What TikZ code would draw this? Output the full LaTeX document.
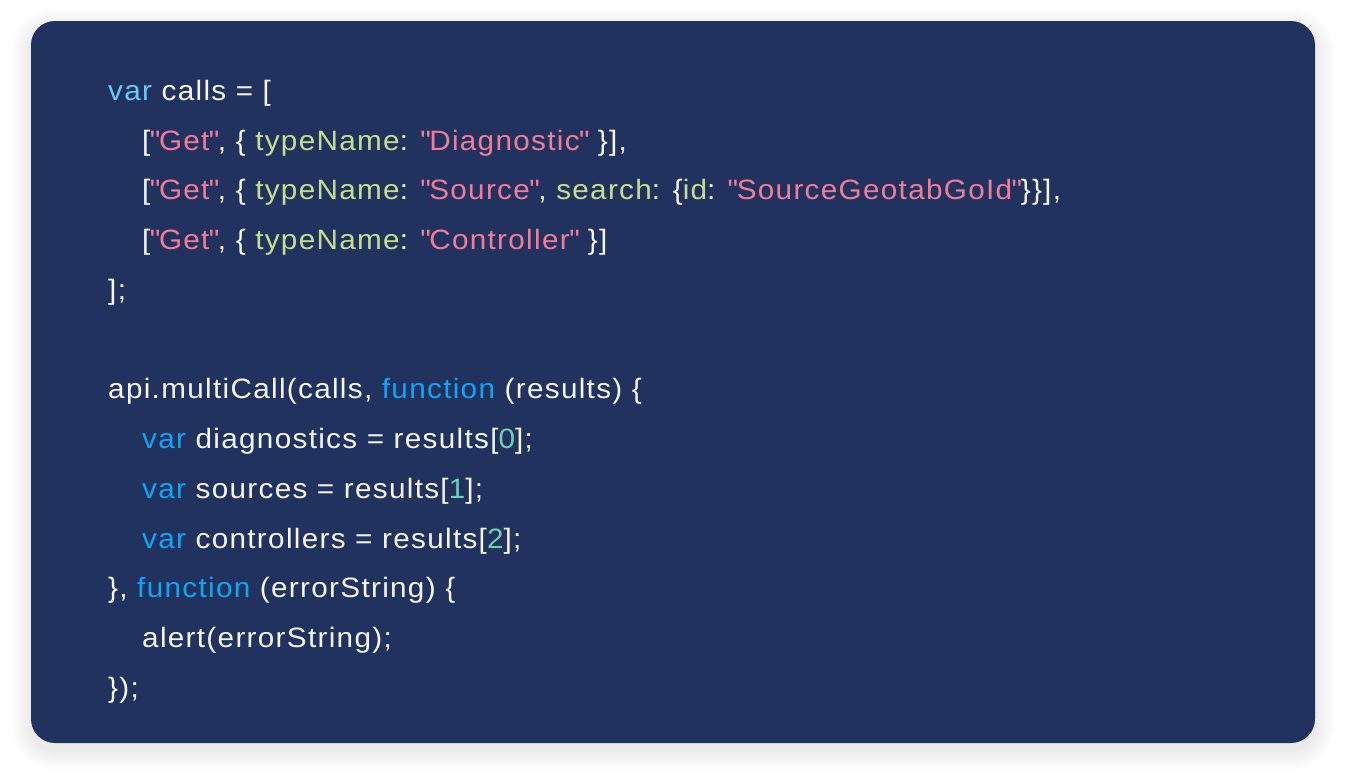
\documentclass[tikz,border=0pt]{standalone}
\usepackage{fontspec}
\setmainfont{Liberation Sans}[Ligatures=TeXOff, FakeStretch=1.06, LetterSpace=4.7]
\definecolor{bgnavy}{HTML}{22325E}
\definecolor{codew}{HTML}{F4F5F7}
\definecolor{kwlight}{HTML}{6CC8F0}
\definecolor{kwblue}{HTML}{10A5F5}
\definecolor{strpink}{HTML}{F07C9A}
\definecolor{propgreen}{HTML}{C5DE8E}
\definecolor{numteal}{HTML}{6FD0B0}
\definecolor{shadowc}{HTML}{2A3550}
\newcommand{\qmark}{\kern-0.5pt\char34\relax\kern-1.5pt}
\newcommand{\cV}[1]{\textcolor{kwlight}{#1}}
\newcommand{\cK}[1]{\textcolor{kwblue}{#1}}
\newcommand{\cS}[1]{\textcolor{strpink}{\qmark#1\qmark}}
\newcommand{\cP}[1]{\textcolor{propgreen}{#1}}
\newcommand{\cN}[1]{\textcolor{numteal}{#1}}
\begin{document}
\begin{tikzpicture}[x=1pt,y=-1pt,
  codeline/.style={anchor=base west, inner sep=0pt, text=codew, font=\fontsize{28}{28}\selectfont},
  panel/.style={fill=bgnavy, rounded corners=24pt},
  shadowlayer/.style={fill=shadowc, opacity=0.0045}]
\useasboundingbox (0,0) rectangle (1346,780);
\fill[white] (0,0) rectangle (1346,780);
\foreach \i in {1,...,20}{
  \path[shadowlayer, rounded corners={24pt+\i pt}] ({31-\i},{21-\i+7}) rectangle ({1315+\i},{743+\i+7});
}
\path[panel] (31,21) rectangle (1315,743);
\node[codeline] (l1) at (108,100) {\cV{var} calls = [};
\node[codeline] (l2) at (142,150) {[\cS{Get}, \{ \cP{typeName}: \cS{Diagnostic} \}],};
\node[codeline] (l3) at (142,199.5) {[\cS{Get}, \{ \cP{typeName}: \cS{Source}, \cP{search}: \{\cP{id}: \cS{SourceGeotabGoId}\}\}],};
\node[codeline] (l4) at (142,249) {[\cS{Get}, \{ \cP{typeName}: \cS{Controller} \}]};
\node[codeline] (l5) at (108,299) {];};
\node[codeline] (l6) at (108,398) {api.multiCall(calls, \cK{function} (results) \{};
\node[codeline] (l7) at (142,448) {\cK{var} diagnostics = results[\cN{0}];};
\node[codeline] (l8) at (142,498) {\cK{var} sources = results[\cN{1}];};
\node[codeline] (l9) at (142,548) {\cK{var} controllers = results[\cN{2}];};
\node[codeline] (l10) at (108,597) {\}, \cK{function} (errorString) \{};
\node[codeline] (l11) at (142,647) {alert(errorString);};
\node[codeline] (l12) at (108,697) {\});};
\end{tikzpicture}
\end{document}
